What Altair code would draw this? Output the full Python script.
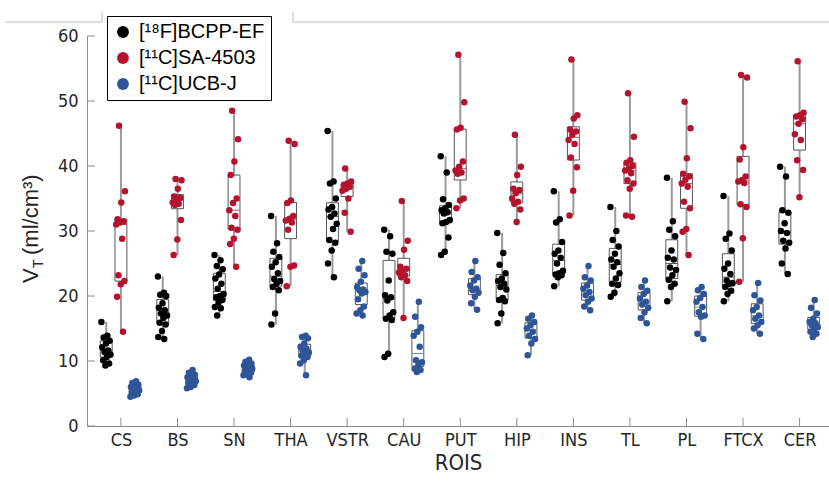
import json
import altair as alt
import pandas as pd

rois = ["CS", "BS", "SN", "THA", "VSTR", "CAU", "PUT", "HIP", "INS", "TL", "PL", "FTCX", "CER"]
tracers = ["[¹⁸F]BCPP-EF", "[¹¹C]SA-4503", "[¹¹C]UCB-J"]
colors = ["#000000", "#b5122e", "#2e5597"]
median_colors = ["#5a5a5a", "#d0506a", "#7090c8"]
y_ticks = [0, 10, 20, 30, 40, 50, 60]

bcpp = {
    "CS": [16.0, 13.9, 13.6, 13.1, 12.7, 12.1, 11.6, 11.4, 11.0, 10.6, 10.1, 9.6, 9.3],
    "BS": [23.0, 20.5, 20.2, 20.0, 18.9, 18.2, 17.8, 17.3, 17.0, 16.6, 15.9, 15.6, 14.6, 13.7, 13.4],
    "SN": [26.3, 25.5, 24.6, 24.1, 23.3, 22.7, 21.9, 21.1, 20.3, 20.0, 19.8, 19.4, 19.0, 18.3, 18.1, 17.0],
    "THA": [32.3, 28.1, 26.8, 26.0, 25.2, 24.5, 23.5, 22.6, 22.3, 21.9, 21.4, 20.9, 17.3, 15.6],
    "VSTR": [45.4, 37.6, 37.3, 35.0, 33.7, 33.3, 32.7, 32.2, 31.1, 30.3, 28.6, 28.2, 27.0, 25.0, 22.9],
    "CAU": [30.2, 29.2, 26.8, 26.5, 22.4, 20.1, 19.8, 19.3, 17.5, 17.0, 16.5, 16.3, 11.1, 10.6],
    "PUT": [41.5, 39.0, 34.9, 34.0, 33.5, 33.2, 32.9, 32.7, 31.7, 31.4, 31.2, 29.0, 26.8, 26.3],
    "HIP": [29.7, 26.6, 24.8, 23.5, 22.7, 22.3, 21.9, 21.4, 21.0, 19.7, 19.4, 19.2, 17.3, 15.8],
    "INS": [36.1, 31.8, 31.3, 28.3, 27.0, 26.5, 25.9, 25.0, 23.9, 23.5, 23.3, 23.2, 22.9, 21.5],
    "TL": [33.7, 30.0, 28.6, 27.6, 26.5, 25.6, 25.2, 24.5, 23.5, 22.7, 21.9, 21.7, 20.5, 19.9],
    "PL": [38.2, 31.5, 30.2, 29.2, 27.0, 25.9, 25.6, 24.4, 24.0, 23.2, 22.5, 21.9, 21.4, 19.2],
    "FTCX": [35.4, 29.6, 28.8, 27.0, 25.0, 24.2, 23.4, 22.4, 22.0, 21.9, 21.4, 20.8, 20.3, 19.2],
    "CER": [39.9, 38.4, 33.2, 32.8, 31.2, 30.0, 29.7, 28.5, 28.2, 27.3, 25.0, 23.4],
}
sa = {
    "CS": [46.2, 36.1, 34.4, 31.8, 31.5, 31.3, 31.0, 28.8, 23.2, 22.3, 21.8, 19.9, 14.5],
    "BS": [38.0, 37.8, 36.5, 35.3, 35.1, 35.0, 34.4, 34.2, 34.0, 31.7, 28.7, 26.3],
    "SN": [48.5, 44.1, 40.7, 38.6, 35.0, 34.3, 33.2, 32.3, 30.5, 30.2, 28.8, 28.0, 24.5],
    "THA": [43.9, 43.4, 34.7, 34.3, 32.3, 31.9, 31.6, 31.3, 30.2, 24.7, 24.5, 21.5],
    "VSTR": [39.6, 37.6, 37.3, 37.1, 36.8, 36.5, 36.2, 35.0, 32.8, 29.9],
    "CAU": [34.6, 28.5, 27.1, 24.5, 24.2, 24.0, 23.6, 23.2, 22.9, 22.3, 16.6],
    "PUT": [57.1, 49.8, 45.9, 45.6, 40.7, 39.9, 39.3, 39.0, 38.8, 35.0, 34.7, 33.5],
    "HIP": [44.8, 39.9, 38.6, 36.5, 36.3, 35.8, 35.0, 34.5, 34.2, 33.3, 31.4],
    "INS": [56.4, 47.8, 47.3, 45.6, 45.3, 44.8, 44.0, 43.4, 41.3, 39.8, 36.2, 32.4],
    "TL": [51.2, 44.5, 40.9, 40.5, 40.0, 39.6, 39.3, 38.9, 37.8, 37.3, 36.5, 32.4, 32.2],
    "PL": [49.9, 45.8, 41.2, 38.8, 38.4, 37.9, 37.3, 36.8, 34.5, 33.5, 30.3, 29.9, 26.3],
    "FTCX": [54.0, 53.6, 42.9, 41.0, 38.4, 37.8, 37.6, 37.4, 34.1, 33.7, 28.9, 22.2],
    "CER": [56.1, 48.2, 47.8, 47.6, 47.2, 46.5, 44.9, 44.0, 40.9, 39.4, 35.2],
}
ucb = {
    "CS": [6.9, 6.6, 6.4, 6.2, 6.0, 5.9, 5.7, 5.5, 5.3, 5.1, 4.9, 4.7, 4.5],
    "BS": [8.6, 8.2, 7.9, 7.6, 7.5, 7.3, 7.1, 6.9, 6.7, 6.5, 6.3, 6.0, 5.8],
    "SN": [10.2, 9.9, 9.6, 9.4, 9.3, 9.2, 9.0, 8.8, 8.6, 8.4, 8.2, 8.0, 7.8, 7.5],
    "THA": [13.9, 13.7, 13.5, 12.7, 12.2, 11.9, 11.6, 11.3, 11.1, 10.8, 10.6, 10.1, 9.6, 7.8],
    "VSTR": [25.4, 24.2, 23.2, 22.2, 21.4, 21.0, 20.9, 20.6, 20.4, 19.5, 18.4, 17.8, 17.3, 17.0],
    "CAU": [19.1, 16.8, 15.2, 14.5, 13.9, 12.2, 10.1, 9.8, 9.3, 8.8, 8.6, 8.3],
    "PUT": [25.4, 23.7, 22.9, 22.4, 21.6, 21.1, 20.9, 20.5, 19.9, 18.9, 17.9],
    "HIP": [17.0, 16.5, 16.0, 15.5, 15.0, 14.5, 13.9, 13.4, 12.7, 10.9],
    "INS": [24.6, 22.9, 22.4, 21.6, 21.1, 20.6, 20.1, 19.6, 19.1, 18.4, 17.8],
    "TL": [22.4, 21.4, 20.8, 20.3, 19.6, 19.1, 18.7, 18.2, 17.5, 16.6, 15.8],
    "PL": [21.4, 20.9, 20.3, 19.7, 19.1, 18.3, 17.5, 17.0, 16.8, 14.2, 13.4],
    "FTCX": [22.0, 20.1, 19.3, 18.3, 17.8, 17.0, 16.5, 16.0, 15.5, 15.0, 14.2],
    "CER": [19.4, 18.2, 17.3, 16.5, 16.0, 15.8, 15.5, 15.2, 15.0, 14.5, 14.2, 13.7],
}

group_offsets = [-0.26, 0.0, 0.25]
rows = []
for ti, d in enumerate([bcpp, sa, ucb]):
    for ri, r in enumerate(rois):
        for k, v in enumerate(d[r]):
            rows.append({"roi": r, "tracer": tracers[ti], "t": ti,
                         "center": ri + 1 + group_offsets[ti], "k": k, "v": v,
                         "mc": median_colors[ti]})
df = pd.DataFrame(rows)

NARROW = "Liberation Sans Narrow, DejaVu Sans Condensed, Roboto, sans-serif"
REG = "Liberation Sans, Arial, sans-serif"
AX = "#8c8c8c"
TXT = "#262626"

xs = alt.Scale(domain=[0.4, 13.52], nice=False, zero=False)
ys = alt.Scale(domain=[0, 60], nice=False, zero=False)
label_expr = json.dumps(rois) + "[datum.value - 1]"
xaxis = alt.Axis(values=list(range(1, len(rois) + 1)), labelExpr=label_expr, ticks=False,
                 grid=False, domainColor=AX, labelFont=NARROW, labelFontSize=18,
                 labelColor=TXT, labelPadding=5, title="ROIS", titleFont=NARROW,
                 titleFontSize=22, titleFontWeight="normal", titleColor=TXT, titlePadding=3)
yaxis = alt.Axis(values=y_ticks, ticks=False, grid=False, domainColor=AX, labelFont=NARROW,
                 labelFontSize=18, labelColor=TXT, labelPadding=9, title=None)


def X(f):
    return alt.X(f, scale=xs, axis=xaxis)


def Y(f):
    return alt.Y(f, scale=ys, axis=yaxis)


stats = alt.Chart(df).transform_aggregate(
    q1="q1(v)", q3="q3(v)", med="median(v)", lo="min(v)", hi="max(v)",
    groupby=["roi", "tracer", "t", "center", "mc"],
).transform_calculate(xl="datum.center - 0.105", xr="datum.center + 0.105")

wlo = stats.mark_rule(color="#9a9a9a", strokeWidth=2).encode(x=X("center:Q"), y=Y("lo:Q"), y2="q1:Q")
whi = stats.mark_rule(color="#9a9a9a", strokeWidth=2).encode(x=X("center:Q"), y=Y("q3:Q"), y2="hi:Q")
box = stats.mark_rect(fill="white", fillOpacity=0, stroke="#555555", strokeWidth=1).encode(
    x=X("xl:Q"), x2="xr:Q", y=Y("q1:Q"), y2="q3:Q")
med = stats.mark_rule(strokeWidth=1).encode(
    x=X("xl:Q"), x2="xr:Q", y=Y("med:Q"), color=alt.Color("mc:N", scale=None))

points = alt.Chart(df).transform_calculate(
    jx="datum.center + ((datum.k * 0.618034 + datum.t * 0.3) % 1 - 0.5) * 0.17"
).mark_circle(size=42, opacity=1).encode(
    x=X("jx:Q"), y=Y("v:Q"),
    color=alt.Color("tracer:N", scale=alt.Scale(domain=tracers, range=colors),
                    legend=alt.Legend(orient="none", legendX=20, legendY=-20, title=None,
                                      strokeColor="black", fillColor="white", padding=6,
                                      labelFont=REG, labelFontSize=20, labelColor="black",
                                      symbolSize=140, symbolType="circle",
                                      symbolStrokeWidth=0, rowPadding=6, labelOffset=6,
                                      cornerRadius=0)),
)

xt = alt.Chart(pd.DataFrame({"p": list(range(1, len(rois) + 1))})).transform_calculate(
    y0="0", y1="1.25").mark_rule(color=AX).encode(x=X("p:Q"), y=Y("y0:Q"), y2="y1:Q")
yt = alt.Chart(pd.DataFrame({"yv": y_ticks})).transform_calculate(
    x0="0.4", x1="0.54").mark_rule(color=AX).encode(x=X("x0:Q"), x2="x1:Q", y=Y("yv:Q"))


# y-axis title pieces: V_T (ml/cm³)
def txt(s, x, y, size):
    return alt.Chart(pd.DataFrame({"s": [s]})).mark_text(
        angle=270, align="left", baseline="alphabetic", font=REG, fontSize=size, color=TXT
    ).encode(text="s:N", x=alt.value(x), y=alt.value(y))


ytitle = [
    txt("V", -49, 247, 22),
    txt("T", -44, 232, 14),
    txt("(ml/cm³)", -49, 219, 22),
]

# top frame decoration
deco = [
    alt.Chart(pd.DataFrame({"a": [0]})).mark_rule(color="#bdbdbd").encode(
        x=alt.value(-82), x2=alt.value(15), y=alt.value(-14)),
    alt.Chart(pd.DataFrame({"a": [0]})).mark_rule(color="#bdbdbd").encode(
        x=alt.value(15), y=alt.value(-24), y2=alt.value(-14)),
    alt.Chart(pd.DataFrame({"a": [0]})).mark_rule(color="#bdbdbd").encode(
        x=alt.value(206), x2=alt.value(760), y=alt.value(-14)),
    alt.Chart(pd.DataFrame({"a": [0]})).mark_rule(color="#bdbdbd").encode(
        x=alt.value(206), y=alt.value(-24), y2=alt.value(-14)),
]

chart = alt.layer(xt, yt, wlo, whi, box, med, points, *ytitle, *deco).properties(
    width=742, height=390,
    autosize=alt.AutoSizeParams(type="none"),
    padding={"left": 87, "top": 36, "right": 0, "bottom": 56},
    background="white",
).configure_view(stroke=None)

chart.save("out.html", embed_options={"renderer": "svg", "actions": False})
